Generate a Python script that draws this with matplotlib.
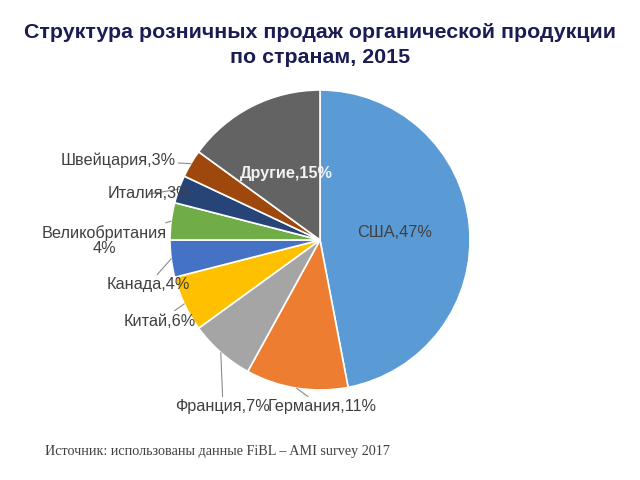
import numpy as np
import matplotlib
matplotlib.use("Agg")
import matplotlib.pyplot as plt

plt.rcParams['font.family'] = ['Liberation Sans', 'DejaVu Sans']

countries = ["США", "Германия", "Франция", "Китай", "Канада",
             "Великобритания", "Италия", "Швейцария", "Другие"]
shares = [47, 11, 7, 6, 4, 4, 3, 3, 15]
colors = ["#5B9BD5", "#ED7D31", "#A5A5A5", "#FFC000", "#4472C4",
          "#70AD47", "#264478", "#9E480E", "#636363"]

title = "Структура розничных продаж органической продукции\nпо странам, 2015"
source = "Источник: использованы данные FiBL – AMI survey 2017"

W, H = 640, 480
fig = plt.figure(figsize=(6.4, 4.8), dpi=100)
cx, cy, R = 320, 240, 150
ax = fig.add_axes([(cx - R) / W, (H - cy - R) / H, 2 * R / W, 2 * R / H])
wedges, _ = ax.pie(shares, colors=colors, startangle=90, counterclock=False,
                   radius=1, wedgeprops=dict(edgecolor="white", linewidth=1.2))
ax.set_xlim(-1, 1)
ax.set_ylim(-1, 1)
ax.set_aspect("equal")
ax.axis("off")

def px2d(px, py):
    return ((px - cx) / R, (cy - py) / R)

mids = [np.deg2rad((w.theta1 + w.theta2) / 2) for w in wedges]
txtc = "#404040"
fs = 11.7

# inner labels
for i, col in [(0, txtc), (8, "#f2f2f2")]:
    a = mids[i]
    ax.text(0.5 * np.cos(a), 0.5 * np.sin(a), f"{countries[i]},{shares[i]}%",
            ha="center", va="center", fontsize=fs, color=col,
            fontweight="bold" if i == 8 else "normal")

# outer labels: pixel positions of label centres
outer_pos = {1: (322, 407), 2: (223, 407), 3: (160, 321), 4: (148, 285),
             5: (104, 241), 6: (149, 194), 7: (118, 160)}
for i, (px, py) in outer_pos.items():
    a = mids[i]
    label = f"{countries[i]},{shares[i]}%"
    if i == 5:
        label = f"{countries[i]}\n{shares[i]}%"
    ax.annotate(label, xy=(np.cos(a), np.sin(a)), xytext=px2d(px, py),
                ha="center", va="center", fontsize=fs, color=txtc,
                linespacing=1.0,
                arrowprops=dict(arrowstyle="-", color="#8c8c8c", lw=0.8,
                                shrinkA=0, shrinkB=0),
                annotation_clip=False)

fig.text(0.5, 1 - 45 / H, title, ha="center", va="center", fontsize=15.4,
         fontweight="bold", color="#1c1c54", linespacing=1.4)
fig.text(45 / W, 1 - 452 / H, source, ha="left", va="center", fontsize=10.2,
         color=txtc, family=["Liberation Serif", "DejaVu Serif"])

fig.savefig("out.png", dpi=100)
